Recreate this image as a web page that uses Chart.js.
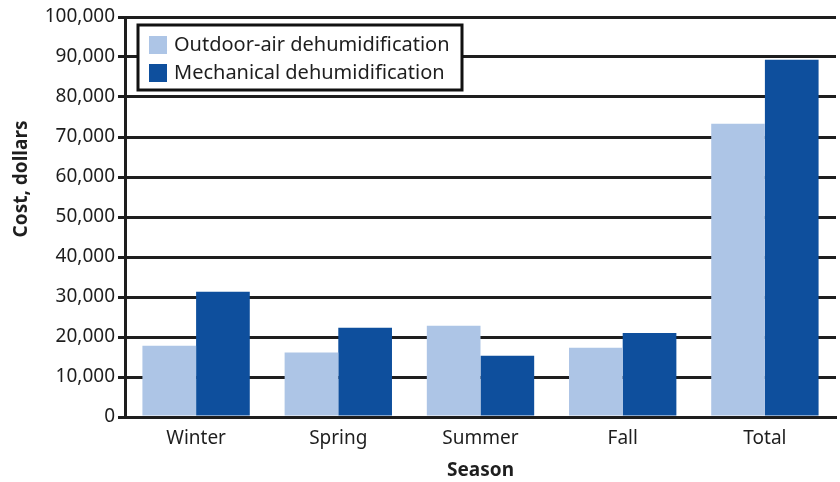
<!DOCTYPE html>
<html>
<head>
<meta charset="utf-8">
<script src="https://cdn.jsdelivr.net/npm/chart.js@4/dist/chart.umd.min.js"></script>
<style>
  html, body { margin: 0; padding: 0; background: #fff; }
  #wrap { width: 840px; height: 482px; }
</style>
</head>
<body>
<div id="wrap"><canvas id="chart"></canvas></div>
<script>
// data
const seasons = ['Winter', 'Spring', 'Summer', 'Fall', 'Total'];
const outdoorAir = [17800, 16100, 22800, 17300, 73300];
const mechanical = [31300, 22300, 15300, 21000, 89300];
const seriesNames = ['Outdoor-air dehumidification', 'Mechanical dehumidification'];
const seriesColors = ['#adc5e6', '#0e4f9d'];

const FONT = '"Noto Sans", sans-serif';
const INK = '#1e1e1e';

// legend in a bordered box inside the plot, plus the rotated y title
const boxLegend = {
    id: 'boxLegend',
    afterDraw(chart) {
        const ctx = chart.ctx;
        const area = chart.chartArea;
        ctx.save();
        // y title
        ctx.fillStyle = INK;
        ctx.font = 'bold 19px ' + FONT;
        ctx.textAlign = 'center';
        ctx.textBaseline = 'middle';
        ctx.translate(22, 179);
        ctx.rotate(-Math.PI / 2);
        ctx.fillText('Cost, dollars', 0, 0);
        ctx.restore();

        ctx.save();
        const x = area.left + 13, y = area.top + 8;
        ctx.fillStyle = '#fff';
        ctx.fillRect(x, y, 324, 65);
        ctx.strokeStyle = '#111';
        ctx.lineWidth = 3;
        ctx.strokeRect(x, y, 324, 65);
        ctx.font = '20px ' + FONT;
        ctx.textAlign = 'left';
        ctx.textBaseline = 'middle';
        chart.data.datasets.forEach((ds, i) => {
            const ry = y + 11 + i * 28;
            ctx.fillStyle = ds.backgroundColor;
            ctx.fillRect(x + 11, ry, 18, 18);
            ctx.fillStyle = INK;
            ctx.fillText(ds.label, x + 36, ry + 9);
        });
        ctx.restore();
    }
};

new Chart(document.getElementById('chart'), {
    type: 'bar',
    data: {
        labels: seasons,
        datasets: [
            { label: seriesNames[0], data: outdoorAir, backgroundColor: seriesColors[0] },
            { label: seriesNames[1], data: mechanical, backgroundColor: seriesColors[1] }
        ]
    },
    options: {
        responsive: true,
        maintainAspectRatio: false,
        animation: false,
        layout: { padding: { top: 17, right: 4, left: 0, bottom: 0 } },
        datasets: { bar: { categoryPercentage: 0.755, barPercentage: 1.0 } },
        plugins: {
            legend: { display: false },
            tooltip: { enabled: false }
        },
        scales: {
            x: {
                grid: { display: false },
                border: { display: true, color: INK, width: 3 },
                ticks: { color: INK, font: { family: FONT, size: 19 }, padding: 2 },
                title: { display: true, text: 'Season', color: INK, font: { family: FONT, size: 19, weight: 'bold' }, padding: { top: 4, bottom: 0 } },
                afterFit(scale) { scale.height = 65; }
            },
            y: {
                min: 0,
                max: 100000,
                ticks: {
                    stepSize: 10000,
                    color: INK,
                    font: { family: FONT, size: 19 },
                    padding: 3,
                    callback: v => v.toLocaleString('en-US')
                },
                grid: { color: INK, lineWidth: 3, tickLength: 7 },
                border: { display: true, color: INK, width: 3 },
                afterFit(scale) { scale.width = 125; }
            }
        }
    },
    plugins: [boxLegend]
});
</script>
</body>
</html>
